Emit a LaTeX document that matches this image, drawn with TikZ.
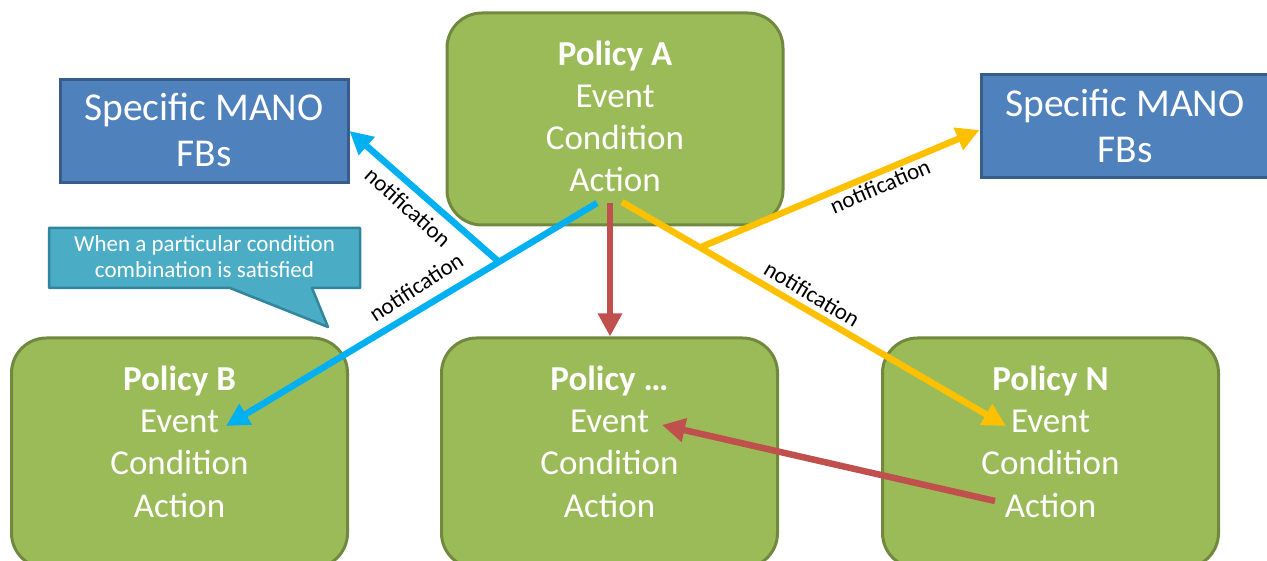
\documentclass[tikz,border=0pt]{standalone}
\usepackage{fontspec}
\setmainfont{Carlito}
\usetikzlibrary{arrows.meta}
\definecolor{polfill}{HTML}{9BBB59}
\definecolor{poledge}{HTML}{71893F}
\definecolor{fbfill}{HTML}{4F81BD}
\definecolor{fbedge}{HTML}{385D8A}
\definecolor{notefill}{HTML}{4BACC6}
\definecolor{noteedge}{HTML}{31859C}
\definecolor{notifblue}{HTML}{00B0F0}
\definecolor{notifyellow}{HTML}{FFC000}
\definecolor{triggerred}{HTML}{C0504D}
\begin{document}
\begin{tikzpicture}[x=1pt,y=-1pt,
  policybox/.style={draw=poledge, fill=polfill, line width=3pt, rounded corners=35pt,
    rectangle, inner sep=0pt, minimum width=336pt},
  policytext/.style={text=white, align=center, inner sep=0pt, anchor=base,
    font=\fontsize{35}{42.3}\selectfont},
  fbbox/.style={draw=fbedge, fill=fbfill, line width=3pt, rectangle, inner sep=0pt,
    minimum width=288pt, minimum height=103pt},
  fbtext/.style={text=white, align=center, inner sep=0pt, anchor=base,
    font=\fontsize{39.5}{46}\selectfont},
  calloutbox/.style={draw=noteedge, fill=notefill, line width=2.5pt, line join=round},
  callouttext/.style={text=white, align=center, inner sep=0pt, anchor=base,
    font=\fontsize{23}{26.5}\selectfont},
  notelabel/.style={text=black, inner sep=0pt, font=\fontsize{23}{26}\selectfont},
  flow/.style={line width=6.5pt, -{Triangle[length=23pt,width=23pt]}},
]
\useasboundingbox (0,0) rectangle (1267,561);
\clip (0,0) rectangle (1267,561);

% policy boxes (text nodes are placed by the baseline of their last line)
\node[policybox, minimum height=212pt] (pa) at (615,119) {};
\node[policybox, minimum height=230pt] (pb) at (179.5,453) {};
\node[policybox, minimum height=230pt] (pd) at (609.5,453) {};
\node[policybox, minimum height=230pt] (pn) at (1050.5,453) {};

\node[policytext] (pat) at (615,192) {\textbf{Policy A}\\Event\\Condition\\Action};
\node[policytext] (pbt) at (179.5,517) {\textbf{Policy B}\\Event\\Condition\\Action};
\node[policytext] (pdt) at (609.5,517) {\textbf{Policy …}\\Event\\Condition\\Action};
\node[policytext] (pnt) at (1050.5,517) {\textbf{Policy N}\\Event\\Condition\\Action};

% MANO functional blocks
\node[fbbox] (fbl) at (204,131) {};
\node[fbbox] (fbr) at (1125,126) {};
\node[fbtext] (fblt) at (204,167) {Specific MANO\\FBs};
\node[fbtext] (fbrt) at (1125,163) {Specific MANO\\FBs};

% callout
\path[calloutbox] (49,228) -- (360,228) -- (360,288) -- (312,288) -- (328,327)
  -- (230,288) -- (49,288) -- cycle;
\node[callouttext] (note) at (204.5,278) {When a particular condition\\combination is satisfied};

% connector end points
\coordinate (aBlue) at (597,203);
\coordinate (aRed) at (610,203);
\coordinate (aYel) at (622,202);
\coordinate (bJ) at (499,262);
\coordinate (yJ) at (700,247.5);
\coordinate (pbIn) at (226,426);
\coordinate (pnIn) at (1006,426);
\coordinate (pdIn) at (662,425);
\coordinate (pnOut) at (995,501);

% connectors
\draw[flow, triggerred] (aRed) -- (aRed |- pd.north);
\draw[flow, triggerred] (pnOut) -- (pdIn);
\draw[flow, notifblue] (aBlue) -- (pbIn);
\draw[flow, notifblue] (bJ) -- (fbl.east);
\draw[flow, notifyellow] (aYel) -- (pnIn);
\draw[flow, notifyellow] (yJ) -- ([yshift=-4pt]fbr.west);

% labels
\node[notelabel, rotate=-41.8] (n1) at (408,207) {notification};
\node[notelabel, rotate=33] (n2) at (416,287) {notification};
\node[notelabel, rotate=23] (n3) at (880,186) {notification};
\node[notelabel, rotate=-31] (n4) at (812,294) {notification};
\end{tikzpicture}
\end{document}
